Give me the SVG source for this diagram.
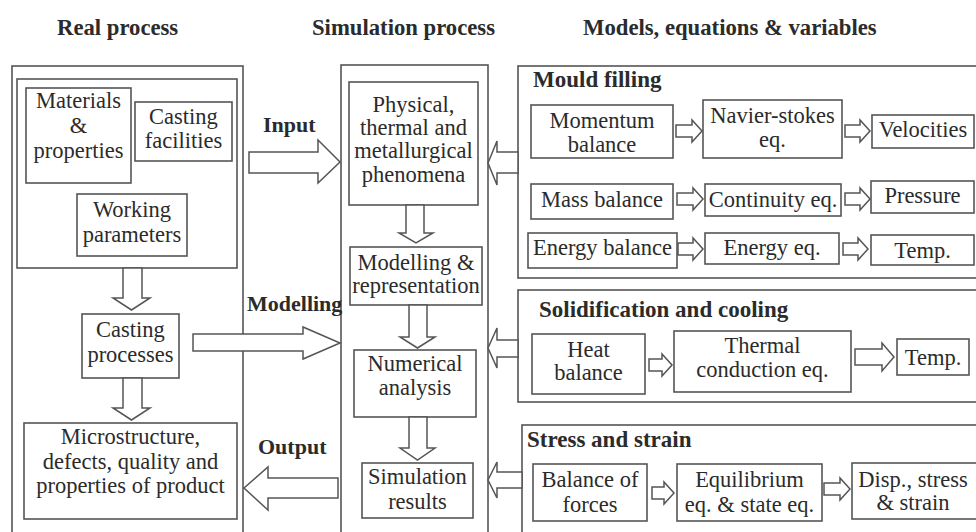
<svg xmlns="http://www.w3.org/2000/svg" width="976" height="532" viewBox="0 0 976 532">
<style>
.box{fill:none;stroke:#555;stroke-width:1.6}
.arr{fill:#fff;stroke:#555;stroke-width:1.5;stroke-linejoin:miter}
text{font-family:"Liberation Serif","Times New Roman",serif;fill:#2b2b2b}
.t{font-size:22.5px;text-anchor:middle}
.h{font-size:22.7px;font-weight:bold}
.s{font-size:23px;font-weight:bold}
.l{font-size:22px;font-weight:bold}
</style>
<rect width="976" height="532" fill="#fff"/>
<g id="headers">
<text class="h" x="57" y="35">Real process</text>
<text class="h" x="312" y="35">Simulation process</text>
<text class="h" x="583" y="35">Models, equations &amp; variables</text>
</g>
<g id="real-process">
<rect class="box" x="12" y="66" width="231" height="480"/>
<rect class="box" x="17" y="79" width="220" height="189"/>
</g>
<g id="materials"><rect class="box" x="26" y="88" width="105" height="95"/>
<text class="t" x="78.5" y="108">Materials</text><text class="t" x="78.5" y="133">&amp;</text><text class="t" x="78.5" y="158">properties</text></g>
<g id="facilities"><rect class="box" x="135" y="102" width="97" height="59"/>
<text class="t" x="183.5" y="124">Casting</text><text class="t" x="183.5" y="148">facilities</text></g>
<g id="working"><rect class="box" x="77" y="194" width="110" height="62"/>
<text class="t" x="132" y="217">Working</text><text class="t" x="132" y="242">parameters</text></g>
<g id="casting-processes"><rect class="box" x="82" y="314" width="97" height="64"/>
<text class="t" x="130.5" y="337">Casting</text><text class="t" x="130.5" y="362">processes</text></g>
<g id="microstructure"><rect class="box" x="24" y="423" width="213" height="96"/>
<text class="t" x="130.5" y="444">Microstructure,</text><text class="t" x="130.5" y="469">defects, quality and</text><text class="t" x="130.5" y="493">properties of product</text></g>
<g id="simulation-process"><rect class="box" x="341" y="65" width="147" height="481"/></g>
<g id="phenomena"><rect class="box" x="349" y="82" width="129" height="123"/>
<text class="t" x="413.5" y="112">Physical,</text><text class="t" x="413.5" y="135">thermal and</text><text class="t" x="413.5" y="158">metallurgical</text><text class="t" x="413.5" y="182">phenomena</text></g>
<g id="modelling-rep"><rect class="box" x="350" y="247" width="132" height="58"/>
<text class="t" x="416" y="270">Modelling &amp;</text><text class="t" x="416" y="293">representation</text></g>
<g id="numerical"><rect class="box" x="354" y="350" width="122" height="67"/>
<text class="t" x="415" y="371">Numerical</text><text class="t" x="415" y="395">analysis</text></g>
<g id="sim-results"><rect class="box" x="362" y="463" width="111" height="55"/>
<text class="t" x="417.5" y="484">Simulation</text><text class="t" x="417.5" y="509">results</text></g>
<g id="mould-filling"><rect class="box" x="518" y="66" width="470" height="212"/>
<text class="s" x="533" y="87">Mould filling</text></g>
<g id="momentum"><rect class="box" x="531" y="105" width="142" height="53"/>
<text class="t" x="602" y="128">Momentum</text><text class="t" x="602" y="152">balance</text></g>
<g id="navier"><rect class="box" x="703" y="100" width="139" height="58"/>
<text class="t" x="772.5" y="123">Navier-stokes</text><text class="t" x="772.5" y="147">eq.</text></g>
<g id="velocities"><rect class="box" x="872" y="115" width="102" height="33"/>
<text class="t" x="923" y="137">Velocities</text></g>
<g id="mass"><rect class="box" x="531" y="184" width="142" height="35"/>
<text class="t" x="602" y="207">Mass balance</text></g>
<g id="continuity"><rect class="box" x="705" y="184" width="136" height="32"/>
<text class="t" x="773" y="207">Continuity eq.</text></g>
<g id="pressure"><rect class="box" x="871" y="181" width="103" height="32"/>
<text class="t" x="922.5" y="203">Pressure</text></g>
<g id="energy-balance"><rect class="box" x="528" y="233" width="149" height="35"/>
<text class="t" x="602.5" y="255">Energy balance</text></g>
<g id="energy-eq"><rect class="box" x="705" y="233" width="134" height="31"/>
<text class="t" x="772" y="255">Energy eq.</text></g>
<g id="temp1"><rect class="box" x="871" y="235" width="103" height="30"/>
<text class="t" x="922.5" y="258">Temp.</text></g>
<g id="solidification"><rect class="box" x="518" y="290" width="470" height="112"/>
<text class="s" x="539" y="317">Solidification and cooling</text></g>
<g id="heat"><rect class="box" x="532" y="334" width="113" height="60"/>
<text class="t" x="588.5" y="357">Heat</text><text class="t" x="588.5" y="380">balance</text></g>
<g id="thermal"><rect class="box" x="674" y="331" width="177" height="61"/>
<text class="t" x="762.5" y="353">Thermal</text><text class="t" x="762.5" y="377">conduction eq.</text></g>
<g id="temp2"><rect class="box" x="897" y="339" width="72" height="36"/>
<text class="t" x="933" y="365">Temp.</text></g>
<g id="stress"><rect class="box" x="522" y="425" width="466" height="121"/>
<text class="s" x="527" y="447">Stress and strain</text></g>
<g id="forces"><rect class="box" x="533" y="464" width="114" height="57"/>
<text class="t" x="590" y="487">Balance of</text><text class="t" x="590" y="512">forces</text></g>
<g id="equilibrium"><rect class="box" x="677" y="464" width="145" height="57"/>
<text class="t" x="749.5" y="487">Equilibrium</text><text class="t" x="749.5" y="512">eq. &amp; state eq.</text></g>
<g id="disp"><rect class="box" x="852" y="463" width="130" height="56"/>
<text class="t" x="913" y="487">Disp., stress</text><text class="t" x="913" y="510">&amp; strain</text></g>
<g id="connectors">
<polygon class="arr" points="249,152 318,152 318,140 340,162 318,183 318,173 249,173"/>
<polygon class="arr" points="193,334 303,334 303,327 340,343 303,359 303,351 193,351"/>
<polygon class="arr" points="244,488 268,467 268,478 338,478 338,498 268,498 268,510"/>
<polygon class="arr" points="123,268 142,268 142,298 150,298 131.5,310 113,298 123,298"/>
<polygon class="arr" points="123,378 142,378 142,408 150,408 131.5,420 113,408 123,408"/>
<polygon class="arr" points="406,205 424,205 424,233 433,233 416,243 399,233 406,233"/>
<polygon class="arr" points="409,305 427,305 427,337 435,337 417.5,348 400,337 409,337"/>
<polygon class="arr" points="409,417 427,417 427,448 435,448 417.5,460 400,448 409,448"/>
<polygon class="arr" points="488,163 497,141 497,152 518,152 518,173 497,173 497,185"/>
<polygon class="arr" points="488,348 497,328 497,340 518,340 518,357 497,357 497,368"/>
<polygon class="arr" points="488,480 497,462 497,472 522,472 522,488 497,488 497,498"/>
<polygon class="arr" points="676,125 692,125 692,120 702,131 692,142 692,137 676,137"/>
<polygon class="arr" points="845,125 860,125 860,120 870,131 860,142 860,137 845,137"/>
<polygon class="arr" points="677,193 693,193 693,188 703,199 693,210 693,205 677,205"/>
<polygon class="arr" points="845,193 860,193 860,188 870,199 860,210 860,205 845,205"/>
<polygon class="arr" points="678,243 693,243 693,238 703,249 693,260 693,255 678,255"/>
<polygon class="arr" points="843,243 858,243 858,238 868,249 858,260 858,255 843,255"/>
<polygon class="arr" points="649,359 662,359 662,354 672,365 662,376 662,371 649,371"/>
<polygon class="arr" points="855,349 882,349 882,343 894,357 882,371 882,365 855,365"/>
<polygon class="arr" points="652,487 664,487 664,482 674,493 664,504 664,499 652,499"/>
<polygon class="arr" points="824,483 840,483 840,478 850,489 840,500 840,495 824,495"/>
</g>
<g id="labels">
<text class="l" x="263" y="132">Input</text>
<text class="l" x="247" y="311">Modelling</text>
<text class="l" x="258" y="454">Output</text>
</g>
</svg>
